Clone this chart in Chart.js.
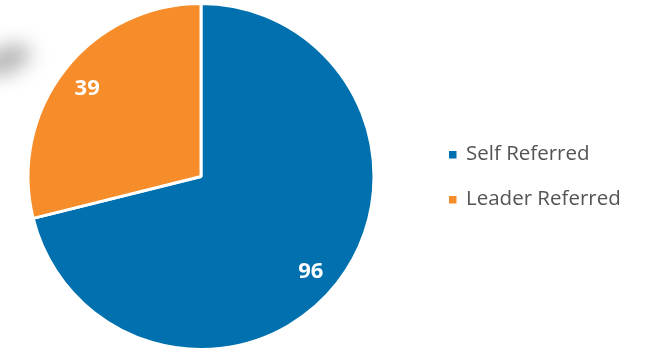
<!DOCTYPE html>
<html>
<head>
<meta charset="utf-8">
<script src="https://cdn.jsdelivr.net/npm/chart.js@4"></script>
<style>
  html, body { margin: 0; padding: 0; background: #ffffff; }
  #wrap { position: relative; width: 646px; height: 351px; }
</style>
</head>
<body>
<div id="wrap"><canvas id="myChart" width="646" height="351"></canvas></div>
<script>
const categories = ["Self Referred", "Leader Referred"];
const referrals = [96, 39];
const sliceColors = ["#0071AE", "#F68D2A"];
// where along each slice's arc the number sits (Excel "best fit")
const labelAlong = [0.51, 0.5];

const shadowPlugin = {
  id: 'shadowBlob',
  beforeDraw: (chart) => {
    const {ctx} = chart;
    ctx.save();
    ctx.filter = 'blur(10px)';
    ctx.fillStyle = 'rgba(165,165,165,0.85)';
    ctx.beginPath();
    ctx.ellipse(6, 60, 26, 13, -0.4, 0, Math.PI * 2);
    ctx.fill();
    ctx.restore();
  }
};

const labelPlugin = {
  id: 'sliceLabels',
  afterDatasetsDraw: (chart) => {
    const {ctx} = chart;
    const meta = chart.getDatasetMeta(0);
    ctx.save();
    ctx.fillStyle = '#ffffff';
    ctx.font = 'bold 22px "Open Sans", sans-serif';
    ctx.textAlign = 'center';
    ctx.textBaseline = 'middle';
    meta.data.forEach((arc, i) => {
      const p = arc.getProps(['x', 'y', 'startAngle', 'endAngle', 'outerRadius'], true);
      const a = p.startAngle + (p.endAngle - p.startAngle) * labelAlong[i];
      const r = p.outerRadius * 0.835;
      ctx.fillText(String(referrals[i]), p.x + Math.cos(a) * r, p.y + Math.sin(a) * r + 1);
    });
    ctx.restore();
  }
};

const legendPlugin = {
  id: 'sideLegend',
  afterDraw: (chart) => {
    const {ctx} = chart;
    ctx.save();
    ctx.font = '20.5px "Open Sans", sans-serif';
    ctx.textBaseline = 'middle';
    categories.forEach((name, i) => {
      const cy = 154.5 + i * 45;
      ctx.fillStyle = sliceColors[i];
      ctx.fillRect(449, cy - 3.5, 7.5, 7.5);
      ctx.fillStyle = '#545454';
      ctx.fillText(name, 466, cy);
    });
    ctx.restore();
  }
};

new Chart("myChart", {
  type: "pie",
  data: {
    labels: categories,
    datasets: [{
      data: referrals,
      backgroundColor: sliceColors,
      borderColor: "#ffffff",
      borderWidth: 3
    }]
  },
  options: {
    responsive: false,
    animation: false,
    layout: { padding: { left: 26, right: 270, top: 2, bottom: 0 } },
    plugins: {
      legend: { display: false },
      tooltip: { enabled: false }
    }
  },
  plugins: [shadowPlugin, labelPlugin, legendPlugin]
});
</script>
</body>
</html>
